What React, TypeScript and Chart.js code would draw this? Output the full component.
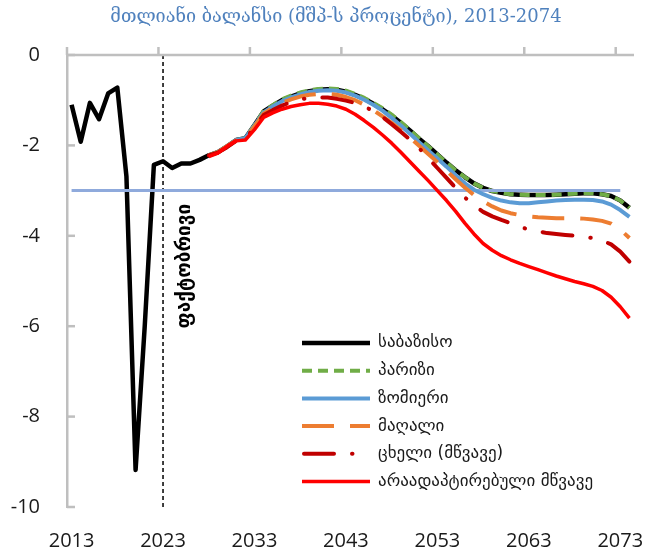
import React, { useEffect, useRef } from 'react';
import { Chart, registerables } from 'chart.js';

Chart.register(...registerables);

// ---------- DATA ----------
const chartTitle = 'მთლიანი ბალანსი (მშპ-ს პროცენტი), 2013-2074';
const actualLabel = 'ფაქტობრივი';
const actualYear = 2023;
const thresholdValue = -3;
const thresholdYears = [2013, 2073];
const xTickYears = [2013, 2023, 2033, 2043, 2053, 2063, 2073];
const yTickValues = [0, -2, -4, -6, -8, -10];

const seriesNames = [
  'საბაზისო',
  'პარიზი',
  'ზომიერი',
  'მაღალი',
  'ცხელი (მწვავე)',
  'არაადაპტირებული მწვავე',
];

const histYears = [2013, 2014, 2015, 2016, 2017, 2018, 2019, 2020, 2021, 2022, 2023, 2024, 2025, 2026, 2027];
const histBase = [-1.1, -1.92, -1.06, -1.42, -0.85, -0.72, -2.69, -9.18, -6.0, -2.43, -2.35, -2.5, -2.4, -2.4, -2.32];

const projYears = [
  2028, 2029, 2030, 2031, 2032, 2033, 2034, 2035, 2036, 2037,
  2038, 2039, 2040, 2041, 2042, 2043, 2044, 2045, 2046, 2047,
  2048, 2049, 2050, 2051, 2052, 2053, 2054, 2055, 2056, 2057,
  2058, 2059, 2060, 2061, 2062, 2063, 2064, 2065, 2066, 2067,
  2068, 2069, 2070, 2071, 2072, 2073, 2074,
];

const baseProj = [
  -2.22, -2.15, -2.02, -1.88, -1.84, -1.55, -1.25, -1.12, -1.0, -0.92,
  -0.85, -0.8, -0.77, -0.76, -0.77, -0.81, -0.88, -0.97, -1.08, -1.2,
  -1.34, -1.5, -1.67, -1.85, -2.02, -2.2, -2.38, -2.55, -2.7, -2.84,
  -2.94, -3.01, -3.05, -3.08, -3.09, -3.1, -3.1, -3.1, -3.09, -3.08,
  -3.07, -3.06, -3.06, -3.08, -3.12, -3.22, -3.38,
];
const parisProj = [
  -2.22, -2.15, -2.02, -1.88, -1.84, -1.55, -1.24, -1.11, -0.98, -0.9,
  -0.83, -0.78, -0.75, -0.74, -0.75, -0.79, -0.86, -0.95, -1.06, -1.18,
  -1.32, -1.48, -1.66, -1.84, -2.02, -2.2, -2.38, -2.55, -2.7, -2.84,
  -2.94, -3.01, -3.05, -3.08, -3.09, -3.1, -3.1, -3.1, -3.09, -3.08,
  -3.07, -3.06, -3.06, -3.08, -3.12, -3.22, -3.38,
];
const moderateProj = [
  -2.22, -2.15, -2.02, -1.88, -1.84, -1.56, -1.27, -1.14, -1.02, -0.94,
  -0.87, -0.82, -0.79, -0.78, -0.79, -0.83, -0.9, -0.99, -1.1, -1.23,
  -1.39, -1.56, -1.74, -1.93, -2.11, -2.29, -2.47, -2.66, -2.84, -2.98,
  -3.08, -3.16, -3.22, -3.26, -3.28, -3.28, -3.26, -3.24, -3.22, -3.21,
  -3.2, -3.2, -3.21, -3.24, -3.31, -3.43, -3.58,
];
const highProj = [
  -2.22, -2.15, -2.02, -1.89, -1.85, -1.58, -1.3, -1.17, -1.06, -0.98,
  -0.92, -0.88, -0.86, -0.86, -0.88, -0.93, -1.0, -1.1, -1.22, -1.36,
  -1.5, -1.66, -1.83, -2.01, -2.19, -2.37, -2.56, -2.75, -2.93, -3.1,
  -3.24, -3.35, -3.44, -3.5, -3.54, -3.57, -3.59, -3.6, -3.61, -3.61,
  -3.61, -3.62, -3.64, -3.67, -3.73, -3.86, -4.05,
];
const hotProj = [
  -2.22, -2.16, -2.04, -1.9, -1.86, -1.6, -1.33, -1.22, -1.12, -1.04,
  -0.98, -0.95, -0.94, -0.94, -0.97, -1.01, -1.06, -1.14, -1.24, -1.37,
  -1.53, -1.7, -1.87, -2.06, -2.28, -2.5, -2.72, -2.94, -3.15, -3.33,
  -3.47, -3.57, -3.65, -3.72, -3.8, -3.86, -3.9, -3.94, -3.96, -3.98,
  -4.0, -4.02, -4.05, -4.1, -4.19, -4.35, -4.57,
];
const unadaptedProj = [
  -2.25, -2.17, -2.02, -1.9, -1.88, -1.65, -1.38, -1.28, -1.2, -1.14,
  -1.1, -1.07, -1.07, -1.09, -1.13, -1.2, -1.31, -1.45, -1.6, -1.77,
  -1.95, -2.15, -2.36, -2.57, -2.78, -3.0, -3.22, -3.46, -3.72, -3.96,
  -4.17, -4.32, -4.44, -4.53, -4.61, -4.68, -4.75, -4.82, -4.89, -4.95,
  -5.01, -5.06, -5.12, -5.21, -5.36, -5.57, -5.82,
];

// ---------- STYLES ----------
const seriesStyles = [
  { color: '#000000', width: 4.5, dash: [] as number[], cap: 'butt' },
  { color: '#70AD47', width: 4, dash: [10, 6], cap: 'butt' },
  { color: '#5B9BD5', width: 4, dash: [] as number[], cap: 'butt' },
  { color: '#ED7D31', width: 4, dash: [32, 16], cap: 'butt' },
  { color: '#C00000', width: 4, dash: [30, 18, 0.5, 18], cap: 'round' },
  { color: '#FF0000', width: 3.5, dash: [] as number[], cap: 'butt' },
];

const AXIS_GRAY = '#BFBFBF';
const TEXT_COLOR = '#1a1a1a';
const GEO_FONT = "'DejaVu Sans', 'Noto Sans', sans-serif";

const toPoints = (xs: number[], ys: number[]) => xs.map((x, i) => ({ x, y: ys[i] }));

const decorPlugin = {
  id: 'decor',
  afterDatasetsDraw(chart: any) {
    const { ctx, chartArea } = chart;
    const xs = chart.scales.x;
    const ys = chart.scales.y;
    ctx.save();
    // title
    ctx.fillStyle = '#4F81BD';
    ctx.font = "18px 'DejaVu Serif', 'DejaVu Sans', serif";
    ctx.textAlign = 'center';
    ctx.textBaseline = 'middle';
    ctx.fillText(chartTitle, 336, 17);

    // top axis at y = 0
    const y0 = ys.getPixelForValue(0);
    ctx.strokeStyle = AXIS_GRAY;
    ctx.lineWidth = 2.5;
    ctx.beginPath();
    ctx.moveTo(chartArea.left, y0);
    ctx.lineTo(chartArea.right, y0);
    ctx.stroke();
    // category boundary tick marks, every 10 years
    xTickYears.forEach((yr) => {
      const px = xs.getPixelForValue(yr - 0.5);
      ctx.beginPath();
      ctx.moveTo(px, y0);
      ctx.lineTo(px, y0 - 8);
      ctx.stroke();
    });
    // y ticks (inside)
    yTickValues.forEach((v) => {
      const py = ys.getPixelForValue(v);
      ctx.beginPath();
      ctx.moveTo(chartArea.left, py);
      ctx.lineTo(chartArea.left + 8, py);
      ctx.stroke();
    });
    // rotated label next to actual line
    const lx = xs.getPixelForValue(actualYear) + 22;
    const ly = ys.getPixelForValue(-4.67);
    ctx.translate(lx, ly);
    ctx.rotate(-Math.PI / 2);
    ctx.fillStyle = '#000';
    ctx.font = `bold 19px ${GEO_FONT}`;
    ctx.textAlign = 'center';
    ctx.textBaseline = 'middle';
    ctx.fillText(actualLabel, 0, 0);
    ctx.restore();

    // legend
    ctx.save();
    const lineX0 = 302;
    const lineX1 = 370;
    const textX = 378;
    const rowY0 = 343;
    const rowH = 27.7;
    seriesNames.forEach((name, i) => {
      const st = seriesStyles[i];
      const yy = rowY0 + i * rowH;
      ctx.strokeStyle = st.color;
      ctx.lineWidth = st.width;
      ctx.lineCap = (st.cap as CanvasLineCap);
      ctx.setLineDash(st.dash);
      ctx.beginPath();
      ctx.moveTo(lineX0 + (st.cap === 'round' ? 2 : 0), yy);
      ctx.lineTo(lineX1, yy);
      ctx.stroke();
      ctx.setLineDash([]);
      ctx.fillStyle = TEXT_COLOR;
      ctx.font = `17px ${GEO_FONT}`;
      ctx.textAlign = 'left';
      ctx.textBaseline = 'middle';
      ctx.fillText(name, textX, yy);
    });
    ctx.restore();
  },
};

export default function App() {
  const canvasRef = useRef<HTMLCanvasElement | null>(null);

  useEffect(() => {
    document.body.style.margin = '0';
    const canvas = canvasRef.current;
    if (!canvas) return;

    const projections = [baseProj, parisProj, moderateProj, highProj, hotProj, unadaptedProj];
    const seriesData = projections.map((p, i) =>
      i === 0 ? toPoints(histYears.concat(projYears), histBase.concat(p)) : toPoints(projYears, p)
    );

    const datasets: any[] = seriesData.map((data, i) => ({
      label: seriesNames[i],
      data,
      borderColor: seriesStyles[i].color,
      backgroundColor: seriesStyles[i].color,
      borderWidth: seriesStyles[i].width,
      borderDash: seriesStyles[i].dash,
      borderCapStyle: seriesStyles[i].cap,
      borderJoinStyle: 'round',
      pointRadius: 0,
      tension: 0,
      fill: false,
      order: 10 - i,
    }));

    datasets.push({
      label: 'threshold',
      data: thresholdYears.map((x) => ({ x, y: thresholdValue })),
      borderColor: '#8FAADC',
      borderWidth: 3,
      pointRadius: 0,
      fill: false,
      order: 8.5,
    });
    datasets.push({
      label: 'actual',
      data: [{ x: actualYear, y: 0 }, { x: actualYear, y: -10 }],
      borderColor: '#000000',
      borderWidth: 1.5,
      borderDash: [4, 3],
      pointRadius: 0,
      fill: false,
      order: 20,
    });

    const chart = new Chart(canvas, {
      type: 'line',
      data: { datasets },
      options: {
        responsive: false,
        animation: false,
        devicePixelRatio: 1,
        layout: { padding: { left: 0, right: 11, top: 55, bottom: 0 } },
        plugins: {
          legend: { display: false },
          tooltip: { enabled: false },
          title: { display: false },
        },
        scales: {
          x: {
            type: 'linear',
            min: 2012.5,
            max: 2074.5,
            grid: { display: false, drawTicks: false },
            border: { display: false },
            afterBuildTicks: (scale: any) => {
              scale.ticks = xTickYears.map((v) => ({ value: v }));
            },
            afterFit: (scale: any) => {
              scale.height = 46;
              scale.paddingLeft = 0;
              scale.paddingRight = 0;
            },
            ticks: {
              autoSkip: false,
              maxRotation: 0,
              padding: 22,
              color: TEXT_COLOR,
              font: { family: "'Open Sans', sans-serif", size: 20 },
              callback: (v: any) => String(v),
            },
          },
          y: {
            type: 'linear',
            min: -10,
            max: 0,
            grid: { display: false, drawTicks: false },
            border: { display: true, color: AXIS_GRAY, width: 2.5 },
            afterBuildTicks: (scale: any) => {
              scale.ticks = yTickValues.map((v) => ({ value: v }));
            },
            afterFit: (scale: any) => {
              scale.width = 67;
              scale.paddingTop = 0;
              scale.paddingBottom = 0;
            },
            ticks: {
              padding: 27,
              color: TEXT_COLOR,
              font: { family: "'Open Sans', sans-serif", size: 20 },
              callback: (v: any) => String(v),
            },
          },
        },
      },
      plugins: [decorPlugin],
    });

    return () => chart.destroy();
  }, []);

  return (
    <div style={{ width: 645, height: 553, position: 'relative' }}>
      <canvas ref={canvasRef} width={645} height={553} style={{ display: 'block' }} />
    </div>
  );
}
